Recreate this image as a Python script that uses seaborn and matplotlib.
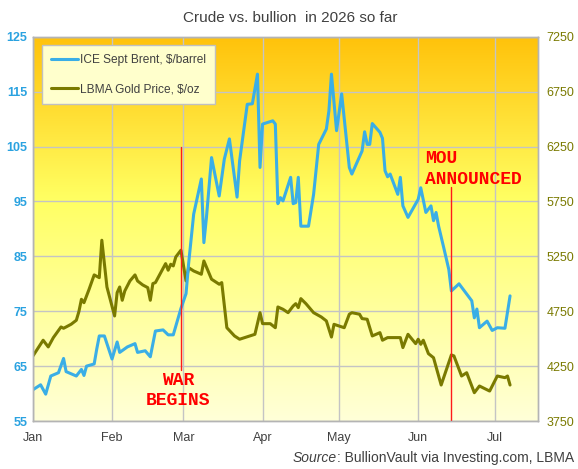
import matplotlib
matplotlib.use("Agg")
import matplotlib.pyplot as plt
import matplotlib.dates as mdates
from matplotlib.colors import LinearSegmentedColormap
import seaborn as sns
import pandas as pd
import numpy as np

# ICE Sept Brent, $/barrel
brent_dates = ["2026-01-01", "2026-01-04", "2026-01-06", "2026-01-08", "2026-01-11", "2026-01-13",
               "2026-01-14", "2026-01-15", "2026-01-18", "2026-01-20", "2026-01-21", "2026-01-22",
               "2026-01-25", "2026-01-26", "2026-01-27", "2026-01-29", "2026-02-01", "2026-02-03",
               "2026-02-04", "2026-02-07", "2026-02-10", "2026-02-11", "2026-02-14", "2026-02-16",
               "2026-02-18", "2026-02-21", "2026-02-23", "2026-02-25", "2026-02-28", "2026-03-02",
               "2026-03-03", "2026-03-05", "2026-03-08", "2026-03-09", "2026-03-10", "2026-03-12",
               "2026-03-15", "2026-03-17", "2026-03-19", "2026-03-22", "2026-03-23", "2026-03-26",
               "2026-03-28", "2026-03-30", "2026-03-31", "2026-04-01", "2026-04-05", "2026-04-06",
               "2026-04-07", "2026-04-08", "2026-04-09", "2026-04-12", "2026-04-13", "2026-04-14",
               "2026-04-15", "2026-04-16", "2026-04-19", "2026-04-21", "2026-04-23", "2026-04-26",
               "2026-04-27", "2026-04-28", "2026-04-30", "2026-05-02", "2026-05-05", "2026-05-06",
               "2026-05-10", "2026-05-11", "2026-05-12", "2026-05-13", "2026-05-14", "2026-05-17",
               "2026-05-18", "2026-05-19", "2026-05-20", "2026-05-21", "2026-05-24", "2026-05-25",
               "2026-05-26", "2026-05-28", "2026-06-01", "2026-06-02", "2026-06-04", "2026-06-06",
               "2026-06-07", "2026-06-08", "2026-06-09", "2026-06-11", "2026-06-13", "2026-06-14",
               "2026-06-17", "2026-06-22", "2026-06-23", "2026-06-24", "2026-06-25", "2026-06-28",
               "2026-06-30", "2026-07-02", "2026-07-05", "2026-07-07"]
brent_price = [60.7, 61.6, 59.9, 63.2, 63.8, 66.4,
               64.0, 63.8, 63.2, 64.4, 63.3, 65.0,
               65.4, 68.1, 70.5, 70.5, 66.3, 69.4,
               67.5, 68.5, 69.1, 67.5, 67.8, 66.7,
               71.4, 71.6, 70.7, 70.7, 75.5, 78.2,
               83.6, 92.7, 99.1, 87.5, 92.1, 103.0,
               96.0, 102.7, 106.4, 95.8, 102.4, 112.7,
               112.8, 118.2, 101.2, 109.1, 109.7, 109.1,
               94.6, 95.7, 95.1, 99.4, 94.6, 94.8,
               99.4, 90.5, 90.5, 96.3, 105.4, 108.2,
               111.5, 118.2, 107.9, 114.6, 101.2, 100.0,
               104.2, 107.7, 105.4, 105.4, 109.2, 107.6,
               106.5, 100.6, 99.5, 100.0, 96.3, 99.4,
               94.2, 92.1, 95.4, 97.5, 93.0, 94.2,
               91.5, 93.0, 90.5, 86.6, 82.6, 78.7,
               80.0, 76.9, 73.8, 75.4, 72.0, 73.2,
               71.5, 72.0, 71.9, 77.8]

# LBMA Gold Price, $/oz
gold_dates = ["2026-01-01", "2026-01-05", "2026-01-07", "2026-01-09", "2026-01-12", "2026-01-13",
              "2026-01-14", "2026-01-16", "2026-01-18", "2026-01-19", "2026-01-20", "2026-01-21",
              "2026-01-23", "2026-01-25", "2026-01-27", "2026-01-28", "2026-01-30", "2026-02-02",
              "2026-02-03", "2026-02-04", "2026-02-05", "2026-02-06", "2026-02-08", "2026-02-10",
              "2026-02-11", "2026-02-13", "2026-02-15", "2026-02-16", "2026-02-17", "2026-02-18",
              "2026-02-22", "2026-02-23", "2026-02-24", "2026-02-25", "2026-02-26", "2026-02-28",
              "2026-03-02", "2026-03-03", "2026-03-05", "2026-03-08", "2026-03-09", "2026-03-12",
              "2026-03-15", "2026-03-16", "2026-03-18", "2026-03-21", "2026-03-23", "2026-03-25",
              "2026-03-27", "2026-03-29", "2026-03-31", "2026-04-01", "2026-04-04", "2026-04-06",
              "2026-04-07", "2026-04-09", "2026-04-11", "2026-04-13", "2026-04-14", "2026-04-15",
              "2026-04-16", "2026-04-18", "2026-04-21", "2026-04-24", "2026-04-26", "2026-04-28",
              "2026-04-29", "2026-05-03", "2026-05-05", "2026-05-06", "2026-05-09", "2026-05-10",
              "2026-05-12", "2026-05-14", "2026-05-17", "2026-05-18", "2026-05-20", "2026-05-25",
              "2026-05-26", "2026-05-28", "2026-05-31", "2026-06-01", "2026-06-02", "2026-06-03",
              "2026-06-05", "2026-06-07", "2026-06-10", "2026-06-14", "2026-06-15", "2026-06-18",
              "2026-06-20", "2026-06-23", "2026-06-25", "2026-06-29", "2026-07-02", "2026-07-05",
              "2026-07-06", "2026-07-07"]
gold_price = [4343, 4486, 4425, 4510, 4607, 4595,
              4607, 4632, 4668, 4746, 4859, 4828,
              4950, 5081, 5056, 5397, 4971, 4707,
              4920, 4971, 4850, 4935, 5026, 5081,
              5026, 4990, 4965, 4850, 5002, 5011,
              5184, 5124, 5178, 5163, 5245, 5306,
              5026, 5147, 5117, 5087, 5208, 5042,
              4996, 5011, 4600, 4525, 4495, 4510,
              4525, 4540, 4737, 4637, 4637, 4600,
              4789, 4768, 4737, 4798, 4819, 4783,
              4865, 4819, 4737, 4698, 4662, 4515,
              4631, 4600, 4723, 4737, 4723, 4683,
              4677, 4525, 4555, 4486, 4510, 4510,
              4419, 4540, 4455, 4495, 4449, 4486,
              4364, 4327, 4078, 4352, 4343, 4160,
              4190, 4008, 4069, 4023, 4160, 4145,
              4160, 4078]

# event markers: date, label, line from/to (left-axis $/barrel)
event_dates = ["2026-02-28", "2026-06-14"]
event_labels = ["WAR\nBEGINS", "MOU\nANNOUNCED"]
event_line_lo = [64.3, 55.0]
event_line_hi = [104.9, 97.6]

brent_ticks = list(range(55, 126, 10))
gold_ticks = list(range(3750, 7251, 500))

blue = "#3AAEE6"
olive = "#7A7A00"
grey_txt = "#404040"

df_brent = pd.DataFrame({"date": pd.to_datetime(brent_dates), "price": brent_price})
df_gold = pd.DataFrame({"date": pd.to_datetime(gold_dates), "price": gold_price})

sns.set_style("white")
plt.rcParams['font.family'] = ['Liberation Sans', 'DejaVu Sans']

fig = plt.figure(figsize=(5.78, 4.69), dpi=100)
rect = [0.057, 0.1023, 0.874, 0.8192]

# gradient background
bg = fig.add_axes(rect, zorder=0)
cmap = LinearSegmentedColormap.from_list(
    "bvgold", [(0.0, "#FFC20A"), (0.42, "#FFFF62"), (1.0, "#FFFFD8")])
bg.imshow(np.linspace(0, 1, 256).reshape(-1, 1), cmap=cmap, aspect="auto",
          extent=[0, 1, 0, 1])
bg.set_axis_off()

ax2 = fig.add_axes(rect, zorder=1)
ax2.patch.set_visible(False)
ax = ax2.twinx()
ax.set_zorder(2)
ax.patch.set_visible(False)

# gold on the back axes (right scale), brent on top (left scale)
sns.lineplot(data=df_gold, x="date", y="price", ax=ax2, color=olive, lw=2.2,
             label="LBMA Gold Price, $/oz", legend=False)
sns.lineplot(data=df_brent, x="date", y="price", ax=ax, color=blue, lw=2.2,
             label="ICE Sept Brent, $/barrel", legend=False)

ax2.set_xlim(pd.Timestamp("2026-01-01"), pd.Timestamp("2026-07-18"))
ax2.set_ylim(gold_ticks[0], gold_ticks[-1])
ax.set_ylim(brent_ticks[0], brent_ticks[-1])

ax2.yaxis.tick_right()
ax2.yaxis.set_label_position("right")
ax.yaxis.tick_left()
ax.yaxis.set_label_position("left")

ax2.set_yticks(gold_ticks)
ax.set_yticks(brent_ticks)
ax2.xaxis.set_major_locator(mdates.MonthLocator())
ax2.xaxis.set_major_formatter(mdates.DateFormatter("%b"))

ax2.grid(True, color="#C4C4C4", lw=1)
ax.grid(False)

ax.tick_params(axis="y", length=0, pad=4, labelsize=9, labelcolor="#2AA2E0")
for t in ax.get_yticklabels():
    t.set_fontweight("bold")
ax2.tick_params(axis="y", length=0, pad=6, labelsize=9, labelcolor=olive)
ax2.tick_params(axis="x", length=0, pad=8, labelsize=9, labelcolor=grey_txt)

for a in (ax, ax2):
    a.set_xlabel("")
    a.set_ylabel("")
    for s in a.spines.values():
        s.set_color("#B4B4B4")
        s.set_linewidth(1)

# event lines and labels
for d, lo, hi in zip(event_dates, event_line_lo, event_line_hi):
    dt = pd.Timestamp(d)
    ax.plot([dt, dt], [lo, hi], color="#FF1A1A", lw=1)

ax.text(pd.Timestamp(event_dates[0]) - pd.Timedelta(days=1), 60.6, event_labels[0],
        ha="center", va="center", color="#FF0000", fontsize=13, fontweight="bold",
        family="Liberation Mono", linespacing=1.25, multialignment="center")
ax.text(pd.Timestamp(event_dates[1]) - pd.Timedelta(days=10.3), 100.9, event_labels[1],
        ha="left", va="center", color="#FF0000", fontsize=13, fontweight="bold",
        family="Liberation Mono", linespacing=1.25)

h1, l1 = ax.get_legend_handles_labels()
h2, l2 = ax2.get_legend_handles_labels()
leg = ax.legend(h1 + h2, l1 + l2, loc="upper left", bbox_to_anchor=(0.018, 0.979),
                borderaxespad=0, fontsize=8.6, frameon=True, fancybox=False, framealpha=1,
                facecolor="#FFFFCC", edgecolor="#C0C0C0", handlelength=2.3,
                labelspacing=1.45, borderpad=0.75, handletextpad=0.15)
for t in leg.get_texts():
    t.set_color(grey_txt)

fig.text(0.503, 0.962, "Crude vs. bullion  in 2026 so far", ha="center", va="center",
         fontsize=11, color=grey_txt)

src = fig.text(0.993, 0.023, ": BullionVault via Investing.com, LBMA", ha="right",
               va="center", fontsize=10, color=grey_txt)
ax.annotate("Source", xy=(0, 0.5), xycoords=src, ha="right", va="center",
            fontsize=10, color=grey_txt, style="italic", annotation_clip=False)

fig.savefig("out.png", dpi=100)
